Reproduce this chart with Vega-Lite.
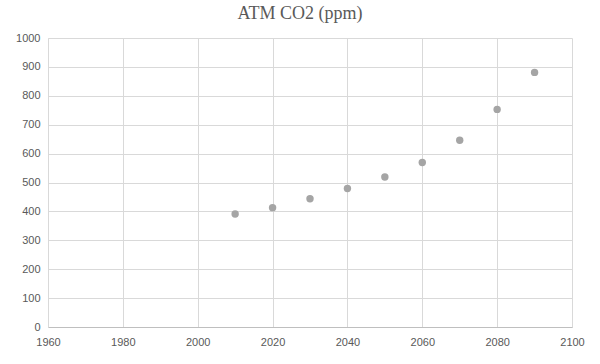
{
  "$schema": "https://vega.github.io/schema/vega-lite/v6.json",
  "autosize": {"type": "none"},
  "width": 524,
  "height": 289,
  "padding": {"left": 48, "top": 38, "right": 28, "bottom": 37},
  "background": "white",
  "title": {
    "text": "ATM CO2 (ppm)",
    "font": "Liberation Serif",
    "fontSize": 18,
    "fontWeight": "normal",
    "color": "#595959",
    "anchor": "middle",
    "dx": -10,
    "offset": 9
  },
  "data": {
    "values": [
      {"year": 2010, "co2": 391},
      {"year": 2020, "co2": 413},
      {"year": 2030, "co2": 444},
      {"year": 2040, "co2": 479},
      {"year": 2050, "co2": 519},
      {"year": 2060, "co2": 569},
      {"year": 2070, "co2": 646},
      {"year": 2080, "co2": 753},
      {"year": 2090, "co2": 881}
    ]
  },
  "mark": {"type": "point", "filled": true, "color": "#a5a5a5", "opacity": 1, "size": 55},
  "encoding": {
    "x": {
      "field": "year",
      "type": "quantitative",
      "scale": {"domain": [1960, 2100], "nice": false, "zero": false},
      "axis": {
        "title": null,
        "values": [1960, 1980, 2000, 2020, 2040, 2060, 2080, 2100],
        "format": "d",
        "ticks": false,
        "labelFlush": false,
        "labelOverlap": false,
        "labelPadding": 9,
        "labelFont": "Liberation Sans",
        "labelFontSize": 11,
        "labelColor": "#595959",
        "domainColor": "#bfbfbf",
        "gridColor": "#d9d9d9",
        "grid": true
      }
    },
    "y": {
      "field": "co2",
      "type": "quantitative",
      "scale": {"domain": [0, 1000], "nice": false},
      "axis": {
        "title": null,
        "values": [0, 100, 200, 300, 400, 500, 600, 700, 800, 900, 1000],
        "format": "d",
        "ticks": false,
        "labelFlush": false,
        "labelOverlap": false,
        "labelPadding": 8,
        "labelFont": "Liberation Sans",
        "labelFontSize": 11,
        "labelColor": "#595959",
        "domainColor": "#d9d9d9",
        "gridColor": "#d9d9d9",
        "grid": true
      }
    }
  },
  "config": {"view": {"stroke": null}}
}
